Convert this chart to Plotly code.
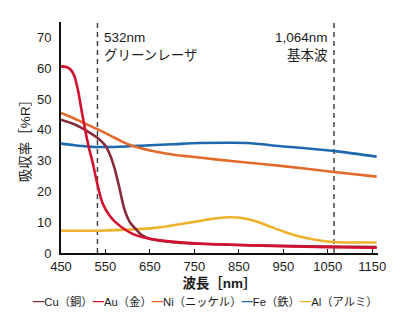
import plotly.graph_objects as go

# Absorptance [%R] versus wavelength [nm] for five metals
cu_wl = [450, 480, 507, 537, 550, 559, 570, 580, 593, 605, 620, 632, 649, 700, 760, 850, 950, 1050, 1160]
cu_ab = [43.3, 41.8, 39.7, 36.8, 34.8, 32.3, 27.7, 22.0, 14.0, 10.0, 7.5, 5.8, 4.6, 3.5, 3.0, 2.6, 2.3, 2.1, 1.9]

au_wl = [450, 462, 472, 480, 488, 496, 505, 513, 521, 530, 544, 560, 575, 611, 649, 700, 760, 850, 950, 1050, 1160]
au_ab = [60.6, 60.4, 59.5, 57.5, 53.0, 46.5, 39.5, 34.0, 29.5, 23.5, 16.0, 12.0, 9.7, 6.2, 4.6, 3.7, 3.1, 2.6, 2.2, 1.9, 1.7]

ni_wl = [450, 475, 500, 532, 560, 590, 610, 650, 700, 760, 850, 950, 1064, 1160]
ni_ab = [45.5, 44.0, 42.3, 40.2, 38.2, 36.0, 34.8, 33.3, 32.0, 31.0, 29.6, 28.2, 26.3, 24.8]

fe_wl = [450, 480, 510, 540, 580, 650, 700, 760, 836, 870, 950, 1000, 1071, 1160]
fe_ab = [35.5, 35.0, 34.6, 34.4, 34.5, 35.0, 35.3, 35.7, 35.8, 35.7, 34.6, 34.0, 33.0, 31.3]

al_wl = [450, 500, 550, 600, 650, 687, 720, 761, 800, 830, 860, 890, 920, 950, 980, 1010, 1040, 1071, 1110, 1160]
al_ab = [7.2, 7.2, 7.3, 7.6, 8.0, 8.6, 9.4, 10.4, 11.3, 11.6, 11.3, 10.2, 8.6, 7.0, 5.6, 4.6, 3.9, 3.5, 3.4, 3.4]

names = ["Cu（銅）", "Au（金）", "Ni（ニッケル）", "Fe（鉄）", "Al（アルミ）"]
colors = ["#862B3C", "#D3102E", "#E26A2C", "#1E68AE", "#EDB22A"]
series = [(cu_wl, cu_ab), (au_wl, au_ab), (ni_wl, ni_ab), (fe_wl, fe_ab), (al_wl, al_ab)]
draw_order = [4, 3, 2, 0, 1]

x_ticks = [450, 550, 650, 750, 850, 950, 1050, 1150]
y_ticks = [0, 10, 20, 30, 40, 50, 60, 70]
laser_lines = [532, 1064]

FONT = "Liberation Sans, Arial, Noto Sans CJK JP, sans-serif"
INK = "#1c1c1c"

fig = go.Figure()
for i in draw_order:
    wl, ab = series[i]
    fig.add_trace(go.Scatter(
        x=wl, y=ab, mode="lines", name=names[i],
        line=dict(color=colors[i], width=2.6, shape="spline", smoothing=0.8),
        showlegend=False,
    ))

for w in laser_lines:
    fig.add_shape(type="line", xref="x", yref="y", x0=w, x1=w, y0=0, y1=75,
                  line=dict(color="#444444", width=1.5, dash="5px,4px"), layer="below")

fig.add_annotation(x=laser_lines[0], y=73, xref="x", yref="y", xanchor="left", yanchor="top",
                   xshift=5, text="532nm<br>グリーンレーザ", showarrow=False, align="left",
                   font=dict(size=13.5, color=INK, family=FONT))
fig.add_annotation(x=laser_lines[1], y=73, xref="x", yref="y", xanchor="right", yanchor="top",
                   xshift=-4, text="1,064nm<br>基本波", showarrow=False, align="right",
                   font=dict(size=13.5, color=INK, family=FONT))

# Legend row: coloured dash followed by the metal name
legend_text = "".join(
    f"<span style='color:{c}'><b>━</b></span>{n}" for n, c in zip(names, colors)
)
fig.add_annotation(x=0.455, y=-0.212, xref="paper", yref="paper", xanchor="center", yanchor="middle",
                   text=legend_text, showarrow=False,
                   font=dict(size=11.3, color=INK, family=FONT))

fig.update_xaxes(
    range=[450, 1163], tickvals=x_ticks, ticks="inside", ticklen=4, tickwidth=1.2,
    tickcolor="#111111", showline=True, linecolor="#111111", linewidth=2,
    showgrid=False, zeroline=False, tickfont=dict(size=13, color=INK, family=FONT),
    title=dict(text="<b>波長［nm］</b>", standoff=6, font=dict(size=13.5, color=INK, family=FONT)),
)
fig.update_yaxes(
    range=[0, 75], tickvals=y_ticks, ticks="", showline=True, linecolor="#111111", linewidth=2,
    showgrid=False, zeroline=False, ticklabelstandoff=5,
    tickfont=dict(size=13, color=INK, family=FONT),
    title=dict(text="吸収率［%R］", standoff=3, font=dict(size=13.5, color=INK, family=FONT)),
)

fig.update_layout(
    width=400, height=332, margin=dict(l=61, r=22, t=22, b=79, autoexpand=False),
    plot_bgcolor="white", paper_bgcolor="white",
    font=dict(family=FONT),
)

fig.write_html("out.html")
